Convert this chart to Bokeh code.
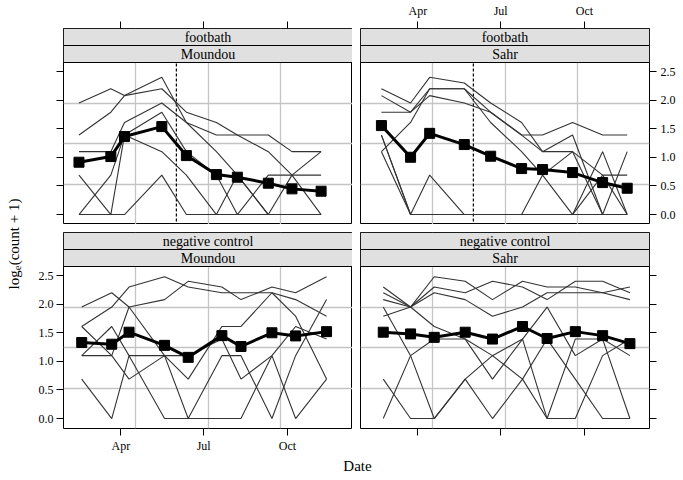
import pandas as pd
from bokeh.plotting import figure
from bokeh.layouts import row, column
from bokeh.models import Range1d, FixedTicker, Span, CustomJSTickFormatter, PrintfTickFormatter
from bokeh.core.properties import value
from bokeh.embed import file_html
from bokeh.resources import INLINE

FONT = "Liberation Serif"

# ---------------- data ----------------
month_tick_dates = ["2013-04-01", "2013-07-01", "2013-10-01"]
month_tick_labels = ["Apr", "Jul", "Oct"]
y_tick_values = [0.0, 0.5, 1.0, 1.5, 2.0, 2.5]
intervention_date = "2013-06-01"
x_limits = ["2013-01-28", "2013-12-11 12:00"]
y_limits = [-0.174, 2.659]

strip_treatment = ["footbath", "footbath", "negative control", "negative control"]
strip_location = ["Moundou", "Sahr", "Moundou", "Sahr"]

dates_fb_moundou = ["2013-02-14", "2013-03-21", "2013-04-05", "2013-05-16", "2013-06-12",
                    "2013-07-15", "2013-08-07", "2013-09-10", "2013-10-06", "2013-11-07"]
mean_fb_moundou = [0.915, 1.014, 1.364, 1.538, 1.031, 0.699, 0.653, 0.548, 0.449, 0.408]
farms_fb_moundou = [
    [1.95, 2.20, 2.08, 2.20, 1.79, 1.61, 1.39, 1.10, 0.69, 0.00],
    [1.39, 1.79, 2.08, 2.40, 1.61, 1.10, 0.69, 0.00, 0.00, 0.00],
    [1.10, 1.10, 1.61, 1.95, 1.61, 1.39, 1.39, 1.39, 1.10, 1.10],
    [0.69, 0.00, 1.39, 1.79, 1.10, 0.69, 0.00, 0.69, 0.69, 0.69],
    [0.00, 0.69, 1.39, 1.10, 0.69, 0.00, 0.69, 0.00, 0.69, 1.10],
    [0.00, 0.00, 0.00, 0.69, 0.00, 0.00, 0.00, 0.00, 0.00, 0.00],
]

dates_fb_sahr = ["2013-02-20", "2013-03-24", "2013-04-14", "2013-05-22", "2013-06-20",
                 "2013-07-24", "2013-08-16", "2013-09-18", "2013-10-21", "2013-11-17"]
mean_fb_sahr = [1.556, 1.002, 1.420, 1.224, 1.020, 0.804, 0.787, 0.734, 0.559, 0.460]
farms_fb_sahr = [
    [2.20, 1.95, 2.40, 2.30, 1.95, 1.61, 1.10, 1.39, 0.00, 0.00],
    [2.08, 1.79, 2.20, 2.20, 1.79, 1.39, 1.39, 1.61, 1.39, 1.39],
    [1.79, 1.79, 2.08, 1.95, 1.79, 1.39, 1.10, 1.10, 0.69, 0.69],
    [1.10, 1.61, 2.20, 2.20, 1.61, 1.10, 0.69, 1.10, 0.00, 1.10],
    [1.39, 0.00, 0.69, 0.00, 0.00, 0.00, 0.69, 0.00, 1.10, 0.00],
    [1.10, 0.00, 0.00, 0.00, 0.00, 0.00, 0.00, 0.00, 0.69, 0.00],
    [1.39, 0.00, 0.00, 0.00, 0.00, 0.00, 0.00, 0.00, 0.00, 0.00],
]

dates_nc_moundou = ["2013-02-17", "2013-03-22", "2013-04-10", "2013-05-19", "2013-06-14",
                    "2013-07-21", "2013-08-11", "2013-09-14", "2013-10-10", "2013-11-13"]
mean_nc_moundou = [1.33, 1.30, 1.51, 1.28, 1.07, 1.45, 1.26, 1.50, 1.445, 1.52]
farms_nc_moundou = [
    [1.95, 2.20, 1.95, 2.08, 2.40, 2.30, 2.08, 2.30, 2.20, 2.48],
    [1.61, 1.95, 2.30, 2.48, 2.30, 2.20, 2.20, 2.20, 2.08, 1.79],
    [1.61, 1.10, 0.69, 1.10, 0.69, 1.61, 1.61, 2.20, 1.79, 0.69],
    [1.10, 1.61, 1.10, 1.10, 0.00, 1.10, 1.10, 0.00, 1.10, 2.08],
    [0.69, 0.00, 1.10, 0.00, 0.00, 0.00, 0.00, 1.10, 0.00, 0.69],
    [1.10, 1.10, 1.95, 1.10, 1.10, 1.39, 0.69, 1.10, 1.61, 1.39],
]

dates_nc_sahr = ["2013-02-22", "2013-03-24", "2013-04-19", "2013-05-23", "2013-06-22",
                 "2013-07-25", "2013-08-21", "2013-09-21", "2013-10-21", "2013-11-20"]
mean_nc_sahr = [1.51, 1.48, 1.42, 1.51, 1.39, 1.61, 1.40, 1.52, 1.45, 1.31]
farms_nc_sahr = [
    [2.20, 1.95, 2.48, 2.40, 2.08, 2.40, 2.30, 2.30, 2.20, 2.30],
    [2.08, 1.95, 2.30, 2.20, 2.40, 2.30, 2.08, 2.40, 2.40, 2.20],
    [1.79, 1.95, 2.20, 2.08, 1.79, 1.95, 2.20, 2.20, 2.20, 2.08],
    [2.30, 1.95, 1.61, 1.39, 1.10, 1.39, 1.95, 1.10, 1.39, 1.10],
    [1.95, 1.10, 0.00, 0.69, 1.10, 0.69, 1.39, 0.69, 0.00, 0.00],
    [0.69, 0.00, 0.00, 0.69, 0.00, 0.69, 0.00, 1.39, 1.39, 0.00],
    [0.00, 1.10, 1.39, 1.39, 0.69, 1.39, 0.00, 0.00, 1.10, 1.39],
]

# ---------------- layout constants ----------------
PANEL_W, PANEL_H, STRIP_H = 289, 162, 17
TOP_B, MID_B, BOT_B = 28, 8, 25
LEFT_B, GAP_B, RIGHT_B = 35, 8, 31
YLAB_W, DATE_H = 28, 23


def ms(d):
    return pd.Timestamp(d).value / 1e6


X0, X1 = ms(x_limits[0]), ms(x_limits[1])
Y_LO, Y_HI = y_limits
strip_dy = STRIP_H * (Y_HI - Y_LO) / PANEL_H
Y_TOP = Y_HI + 2 * strip_dy
x_ticks = [ms(d) for d in month_tick_dates]

LABEL_JS = """
for (let i = 0; i < tvals.length; i++) { if (Math.abs(tvals[i] - tick) < 1000) return tlabels[i]; }
return '';
"""


def style_axis(ax, standoff, tick_out=7):
    ax.axis_line_color = None
    ax.major_tick_line_color = "black"
    ax.major_tick_out = tick_out
    ax.major_tick_in = 0
    ax.minor_tick_line_color = None
    ax.major_label_text_font = FONT
    ax.major_label_text_font_size = "12px"
    ax.major_label_text_color = "black"
    ax.major_label_standoff = standoff


def make_panel(k, dates, mean, farms, top, left, show_x, show_y, show_int):
    p = figure(frame_width=PANEL_W, frame_height=PANEL_H + 2 * STRIP_H,
               x_range=Range1d(X0, X1), y_range=Range1d(Y_LO, Y_TOP),
               x_axis_location="above" if top else "below",
               y_axis_location="left" if left else "right",
               toolbar_location=None, output_backend="svg",
               min_border_top=TOP_B if top else MID_B,
               min_border_bottom=0 if top else BOT_B,
               min_border_left=LEFT_B if left else GAP_B,
               min_border_right=0 if left else RIGHT_B,
               background_fill_color="white", border_fill_color="white")
    p.outline_line_color = "black"
    p.outline_line_width = 1

    xa = p.xaxis[0]
    xa.ticker = FixedTicker(ticks=x_ticks)
    if show_x:
        xa.formatter = CustomJSTickFormatter(args=dict(tvals=x_ticks, tlabels=month_tick_labels), code=LABEL_JS)
    else:
        xa.formatter = CustomJSTickFormatter(code="return '';")
    style_axis(xa, 4 if top else 3, 7)

    ya = p.yaxis[0]
    ya.ticker = FixedTicker(ticks=y_tick_values)
    if show_y:
        ya.formatter = PrintfTickFormatter(format="%.1f")
    else:
        ya.formatter = CustomJSTickFormatter(code="return '';")
    style_axis(ya, 3 if left else 4)

    p.xgrid.ticker = FixedTicker(ticks=[X0 + (X1 - X0) * q / 4 for q in (1, 2, 3)])
    p.ygrid.ticker = FixedTicker(ticks=[Y_LO + (Y_HI - Y_LO) * q / 4 for q in (1, 2, 3)])
    p.grid.grid_line_color = "#c4c4c4"
    p.grid.grid_line_width = 1.3

    if show_int:
        p.add_layout(Span(location=ms(intervention_date), dimension="height",
                          line_color="black", line_width=1.2, line_dash="3 2", level="underlay"))

    xs = [ms(d) for d in dates]
    for f in farms:
        p.line(xs, f, line_color="#333333", line_width=1.1)
    p.line(xs, mean, line_color="black", line_width=3)
    p.scatter(xs, mean, marker="square", size=10, fill_color="black", line_color="black")

    # strips
    p.quad(left=[X0], right=[X1], bottom=[Y_HI], top=[Y_HI + strip_dy],
           fill_color="#e0e0e0", line_color="black", line_width=1)
    p.quad(left=[X0], right=[X1], bottom=[Y_HI + strip_dy], top=[Y_TOP],
           fill_color="#e0e0e0", line_color="black", line_width=1)
    xm = (X0 + X1) / 2
    p.text(x=[xm], y=[Y_HI + 1.5 * strip_dy], text=[strip_treatment[k]],
           text_align="center", text_baseline="middle", text_font=value(FONT),
           text_font_size="14px", text_color="black")
    p.text(x=[xm], y=[Y_HI + 0.5 * strip_dy], text=[strip_location[k]],
           text_align="center", text_baseline="middle", text_font=value(FONT),
           text_font_size="14px", text_color="black")
    return p


p_tl = make_panel(0, dates_fb_moundou, mean_fb_moundou, farms_fb_moundou, True, True, False, False, True)
p_tr = make_panel(1, dates_fb_sahr, mean_fb_sahr, farms_fb_sahr, True, False, True, True, True)
p_bl = make_panel(2, dates_nc_moundou, mean_nc_moundou, farms_nc_moundou, False, True, True, True, False)
p_br = make_panel(3, dates_nc_sahr, mean_nc_sahr, farms_nc_sahr, False, False, False, False, False)

TOTAL_H = (TOP_B + PANEL_H + 2 * STRIP_H) + (MID_B + PANEL_H + 2 * STRIP_H + BOT_B) + DATE_H
COL_W = (LEFT_B + PANEL_W) + (GAP_B + PANEL_W + RIGHT_B)

# y-axis label
ylab = figure(frame_width=YLAB_W, frame_height=TOTAL_H, x_range=Range1d(0, YLAB_W),
              y_range=Range1d(0, TOTAL_H), x_axis_type=None, y_axis_type=None,
              toolbar_location=None, output_backend="svg", min_border=0,
              outline_line_color=None)
ylab.grid.visible = False
y_start = TOTAL_H - 289
ylab.text(x=[13.5], y=[y_start], text=["log"], angle=1.5708, text_align="left",
          text_baseline="alphabetic", text_font=value(FONT), text_font_size="15px", text_color="black")
ylab.text(x=[17], y=[y_start + 19.2], text=["e"], angle=1.5708, text_align="left",
          text_baseline="alphabetic", text_font=value(FONT), text_font_size="10.5px", text_color="black")
ylab.text(x=[13.5], y=[y_start + 24.2], text=["(count + 1)"], angle=1.5708, text_align="left",
          text_baseline="alphabetic", text_font=value(FONT), text_font_size="15px", text_color="black")

# x-axis label
xlab = figure(frame_width=COL_W, frame_height=DATE_H, x_range=Range1d(0, COL_W),
              y_range=Range1d(0, DATE_H), x_axis_type=None, y_axis_type=None,
              toolbar_location=None, output_backend="svg", min_border=0,
              outline_line_color=None)
xlab.grid.visible = False
xlab.text(x=[329], y=[DATE_H - 10], text=["Date"], text_align="center", text_baseline="middle",
          text_font=value(FONT), text_font_size="15px", text_color="black")

layout = row(ylab, column(row(p_tl, p_tr), row(p_bl, p_br), xlab))

open("out.html", "w").write(file_html(layout, INLINE))
